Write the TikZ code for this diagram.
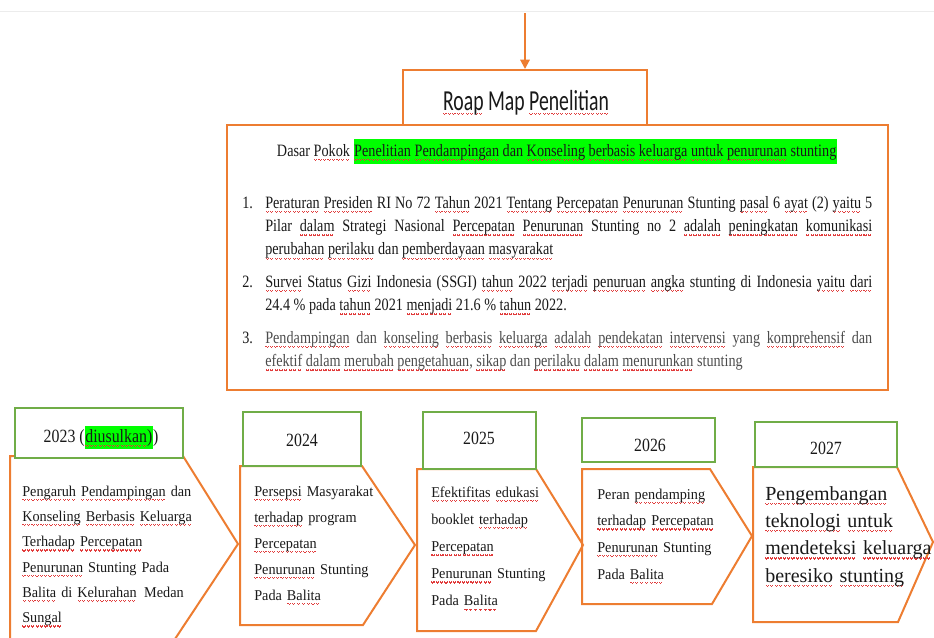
\documentclass[tikz,border=0pt]{standalone}
\usepackage{fontspec}
\setmainfont{Liberation Serif}
\newfontfamily\roapfont[FakeStretch=0.68]{Carlito}
\newfontfamily\basisfont[FakeStretch=0.82]{Liberation Serif}
\newfontfamily\yearfont[FakeStretch=0.85]{Liberation Serif}
\newfontfamily\planfont[FakeStretch=0.95]{Liberation Serif}
\usetikzlibrary{fit,arrows.meta}

\definecolor{WordOrange}{RGB}{237,125,49}
\definecolor{WordGreen}{RGB}{112,173,71}
\definecolor{HiGreen}{RGB}{0,255,0}
\definecolor{InkGray}{RGB}{25,25,25}
\definecolor{SpellRed}{RGB}{225,60,60}

\newsavebox{\spellbox}
\newcommand{\hilite}[1]{{\setlength{\fboxsep}{0.5pt}\colorbox{HiGreen}{\strut#1}}}
\newcommand{\wavebit}{\hbox{\vrule height -2.1pt depth 3.1pt width 0.8pt\vrule height -2.7pt depth 3.7pt width 0.8pt\vrule height -2.1pt depth 3.1pt width 0.8pt\kern0.8pt}}
\newcommand{\spell}[1]{\leavevmode\sbox{\spellbox}{#1}\rlap{\color{SpellRed}\hbox to\wd\spellbox{\xleaders\wavebit\hfill}}\usebox{\spellbox}}

\begin{document}
\begin{tikzpicture}[x=0.75pt,y=-0.75pt,
    box/.style={draw=WordOrange,line width=1.5pt,inner sep=0pt},
    yearbox/.style={draw=WordGreen,fill=white,line width=1.5pt,inner sep=0pt},
    yeartext/.style={anchor=base,inner sep=0pt,text=InkGray,font=\yearfont\fontsize{14pt}{16pt}\selectfont},
    plan/.style={draw=WordOrange,line width=1.5pt,line join=miter},
    plantext/.style={anchor=base west,inner sep=0pt,text width=170pt,align=left,text=InkGray,
                     font=\planfont\fontsize{11.25pt}{19.5pt}\selectfont},
    item/.style={anchor=base west,inner sep=0pt,text width=455.25pt,align=justify,text=InkGray,
                 font=\basisfont\fontsize{13pt}{17.6pt}\selectfont},
    itemnum/.style={anchor=base west,inner sep=0pt,text=InkGray,xshift=-17.25pt,
                    font=\basisfont\fontsize{13pt}{17.6pt}\selectfont}]
      \useasboundingbox (0,0) rectangle (934,637);
      \clip (0,0) rectangle (934,637);
      \draw[gray!15,line width=0.75pt] (0,11) -- (934,11);

      % the five yearly steps
      \draw[plan] (10,456)  -- (183,456) -- (238,544) -- (169,648) -- (10,648)  -- cycle;
      \draw[plan] (240,466) -- (362,466) -- (415,545) -- (363,625) -- (240,625) -- cycle;
      \draw[plan] (417,469) -- (536,469) -- (583,545) -- (536,631) -- (417,631) -- cycle;
      \draw[plan] (582,469) -- (710,469) -- (752,536) -- (712,604) -- (582,604) -- cycle;
      \draw[plan] (753,467) -- (897,467) -- (933,542) -- (898,622) -- (753,622) -- cycle;

      \node[yearbox,fit={(15,408) (183,458)}]  (Year2023) {};
      \node[yearbox,fit={(243,412) (361,466)}] (Year2024) {};
      \node[yearbox,fit={(423,412) (536,469)}] (Year2025) {};
      \node[yearbox,fit={(582,418) (715,462)}] (Year2026) {};
      \node[yearbox,fit={(755,422) (897,467)}] (Year2027) {};
      \node[yeartext] (Label2023) at (101,442) {2023 (\hilite{\spell{diusulkan})})};
      \node[yeartext] (Label2024) at (302,446) {2024};
      \node[yeartext] (Label2025) at (479,444) {2025};
      \node[yeartext] (Label2026) at (650,451) {2026};
      \node[yeartext] (Label2027) at (826,454) {2027};

      \node[plantext,font=\planfont\fontsize{11.25pt}{19pt}\selectfont] (Plan2023) at (22,496)
            {\spell{Pengaruh} \spell{Pendampingan} dan\\ \spell{Konseling} \spell{Berbasis} \spell{Keluarga}\\
             \spell{Terhadap} \spell{Percepatan}\\ \spell{Penurunan} Stunting Pada\\
             \spell{Balita} di \spell{Kelurahan}\enspace Medan\\ \spell{Sungal}};
      \node[plantext] (Plan2024) at (254,496)
            {\spell{Persepsi} Masyarakat\\ \spell{terhadap} program\\ \spell{Percepatan}\\
             \spell{Penurunan} Stunting\\ Pada \spell{Balita}};
      \node[plantext,font=\planfont\fontsize{11.25pt}{20.4pt}\selectfont] (Plan2025) at (431,497)
            {\spell{Efektifitas} \spell{edukasi}\\ booklet \spell{terhadap}\\ \spell{Percepatan}\\
             \spell{Penurunan} Stunting\\ Pada \spell{Balita}};
      \node[plantext,font=\planfont\fontsize{11.25pt}{20pt}\selectfont] (Plan2026) at (597,499)
            {Peran \spell{pendamping}\\ \spell{terhadap} \spell{Percepatan}\\ \spell{Penurunan} Stunting\\ Pada \spell{Balita}};
      \node[plantext,font=\rmfamily\fontsize{15pt}{20.5pt}\selectfont] (Plan2027) at (765,500)
            {\spell{Pengembangan}\\ \spell{teknologi} \spell{untuk}\\ \spell{mendeteksi} \spell{keluarga}\\
             \spell{beresiko} \spell{stunting}};

      % basis of the research
      \node[box,fit={(227,125) (888,390)}] (Basis) {};
      \node[box,fill=white,fit={(403,70) (647,125)}] (RoadMap) {};
      \node[anchor=base,inner sep=0pt,text=InkGray,font=\roapfont\fontsize{21.75pt}{24pt}\selectfont]
            (RoadMapText) at (526,110) {\spell{Roap} Map \spell{Penelitian}};
      \coordinate (Feed) at (525,13);
      \draw[WordOrange,line width=1.5pt,-{Triangle[length=7pt,width=7pt]}] (Feed) -- (RoadMap);

      \node[anchor=base,inner sep=0pt,text=InkGray,font=\basisfont\fontsize{13pt}{17.6pt}\selectfont]
            (Dasar) at (557,156)
            {Dasar \spell{Pokok} \hilite{\spell{Penelitian} \spell{Pendampingan} dan \spell{Konseling} \spell{berbasis}
             \spell{keluarga} \spell{untuk} \spell{penurunan} stunting}};

      \node[item] (Item1) at (265,208)
            {\spell{Peraturan} \spell{Presiden} RI No 72 \spell{Tahun} 2021 \spell{Tentang} \spell{Percepatan}
             \spell{Penurunan} Stunting \spell{pasal} 6 \spell{ayat} (2) \spell{yaitu} 5\linebreak
             Pilar \spell{dalam} Strategi Nasional \spell{Percepatan} \spell{Penurunan} Stunting no 2
             \spell{adalah} \spell{peningkatan} \spell{komunikasi}\linebreak
             \spell{perubahan} \spell{perilaku} dan \spell{pemberdayaan} \spell{masyarakat}};
      \node[itemnum] (Num1) at (Item1.base west) {1.};
      \node[item] (Item2) at (265,287)
            {\spell{Survei} Status \spell{Gizi} Indonesia (SSGI) \spell{tahun} 2022 \spell{terjadi} \spell{penuruan}
             \spell{angka} stunting di Indonesia \spell{yaitu} \spell{dari}\linebreak
             24.4 \% pada \spell{tahun} 2021 \spell{menjadi} 21.6 \% \spell{tahun} 2022.};
      \node[itemnum] (Num2) at (Item2.base west) {2.};
      \node[item,text=black!70] (Item3) at (265,343)
            {\spell{Pendampingan} dan \spell{konseling} \spell{berbasis} \spell{keluarga} \spell{adalah}
             \spell{pendekatan} \spell{intervensi} yang \spell{komprehensif} dan\linebreak
             \spell{efektif} \spell{dalam} \spell{merubah} \spell{pengetahuan}, \spell{sikap} dan \spell{perilaku}
             \spell{dalam} \spell{menurunkan} stunting};
      \node[itemnum] (Num3) at (Item3.base west) {3.};
\end{tikzpicture}
\end{document}
